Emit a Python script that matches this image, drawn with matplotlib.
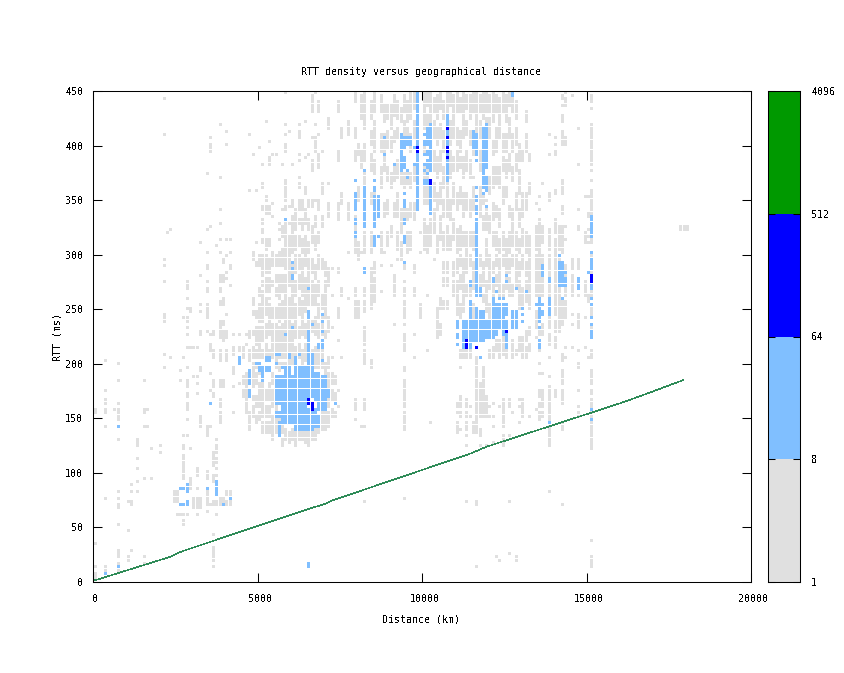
#!/usr/bin/env python3
import matplotlib
matplotlib.use('Agg')
import matplotlib.pyplot as plt
from matplotlib.path import Path
from matplotlib.transforms import ScaledTranslation

plt.rcParams['font.family'] = ['DejaVu Sans Mono']
plt.rcParams['font.size'] = 7.2
plt.rcParams['text.antialiased'] = False

# counts are binned 100 km x 3 ms; key = lower edge of distance bin,
# values = RTT (ms) seen in that column, single or (lo, hi) runs
LOW = {
    0: [35, 14, (0, 8), (155, 158)],
    300: [203, 176, (163, 167), 158, 155, 143, 77, 14, 10],
    600: [158],
    700: [200, 185, 164, 158, (148, 153), 129, 82, 77, (67, 71), 52, (22, 29), 17, 10],
    1000: [74, 46, 23, 20],
    1100: [89, 82, 74, 70, 28],
    1300: [(125, 129), 113, 104, 91, 82],
    1500: [185, 158, 155, 143, 95, 22, 15],
    1600: [158, 143],
    1700: [122, 95],
    2000: [125, 119],
    2100: [441, 410, 296, 289, 275, (240, 245), 238, 209, 196],
    2200: [319],
    2300: [323, 206],
    2400: [(73, 83)],
    2500: [(73, 83), 61],
    2600: [184, 192, 61],
    2700: [242, 206, 133, (121, 125), (106, 116), (98, 104), (94, 96), 61, (52, 55)],
    2800: [(268, 275), 259, 250, (237, 240), 232, 226, 215, 195, (179, 185), (170, 173),
           (157, 164), 149, 133, 61],
    2900: [(247, 250), 215, 122, (85, 95)],
    3000: [215, 188, (67, 77)],
    3100: [215, 188, 182, 173, (97, 104), 86, (67, 77), 61],
    3200: [310, 280, 254, 248, (225, 229), (193, 196), (146, 150), 143, (67, 77)],
    3400: [374, 323, 301, (286, 290), 275, (265, 269), (242, 254), 229, (133, 143),
           (94, 101), (72, 83), 70, 65],
    3500: [406, (393, 400), 326, 225, (211, 216), 191, 174, 143, 70],
    3600: [(225, 229), (204, 210), (179, 185), (170, 173), (105, 119), (94, 98), 90, 74, 70,
           44, (22, 32), 19, 13],
    3700: [308, 129, (122, 125), 118, (108, 113), 104, 96, 74, 70, 60],
    3800: [419, 371, 341, 329, 313, 301, (274, 280), (265, 269), (252, 257), (232, 237),
           (222, 229), (202, 212), (179, 185), (161, 165), 155, (146, 150), (70, 75)],
    3900: [296, 293, (274, 280), (252, 260), (234, 237), (220, 229), (179, 185), 75, 72],
    4000: [413, 401, 313, 298, 284, 278, 245, (223, 229), (202, 210), (80, 83), (70, 72)],
    4100: [313, 301, (286, 290), 272, (78, 83), (70, 72)],
    4200: [(208, 214), (190, 196), 177, 155, 226],
    4400: [226, (210, 215), 181],
    4500: [(205, 215), (180, 188), (170, 175)],
    4600: [225, 218, (185, 190), (168, 180), (155, 165)],
    4700: [410, 359, (223, 229), 212, (203, 208), (140, 155)],
    4800: [392, 301, (295, 299), (254, 259), (244, 248), (225, 228), (205, 215), (196, 200),
           (177, 195), (165, 170), (150, 160)],
    4900: [359, 310, (289, 291), (240, 248), (216, 232), (204, 212), (195, 198), (180, 190),
           (160, 170), (145, 150)],
    5000: [398, (290, 298), (262, 268), (238, 252), (218, 232), (205, 214), (190, 197),
           (160, 180), (148, 155)],
    5100: [383, (361, 365), (340, 344), (327, 332), (319, 323), (310, 313), (280, 298),
           (270, 275), (255, 265), (238, 252), (219, 232), (206, 210), (175, 185), (150, 172),
           (135, 146)],
    5200: [422, (350, 353), (338, 344), (304, 312), (284, 298), (264, 278), (244, 258),
           (224, 236), (215, 218), (205, 212), (165, 175), (150, 160), (135, 145)],
    5300: [404, (382, 387), (338, 344), (308, 312), (284, 296), (265, 278), (258, 260),
           (238, 252), (225, 236), (205, 212), (165, 180), (150, 160), (135, 146)],
    5400: [390, 347, 335, 301, (290, 298), (270, 275), (240, 250), (226, 236), (214, 224),
           (205, 210), (180, 190), (172, 176), (160, 170), (144, 152), (130, 142)],
    5500: [392, (290, 298), (275, 280), (262, 268), (240, 250), (225, 236), (208, 222),
           (196, 204), (150, 180), (135, 148)],
    5600: [329, 323, 313, 301, (290, 298), (275, 280), (258, 270), (238, 252), (226, 232),
           (205, 222), (192, 200), (135, 150)],
    5700: [381, 341, (316, 324), (290, 304), (264, 280), (240, 256), (226, 236), (215, 222),
           (205, 212), (195, 200), (135, 150), (125, 130)],
    5800: [449, 419, 410, (394, 399), (350, 368), (340, 344), (300, 329), (285, 298),
           (260, 280), (240, 255), (225, 238), (205, 222), (195, 200), (130, 138)],
    5900: [413, 344, 329, (300, 316), (270, 298), (245, 260), (225, 240), (210, 222),
           (200, 205), (128, 135)],
    6000: [382, (344, 350), (320, 335), (300, 316), (284, 292), (262, 275), (240, 260),
           (222, 236), (198, 222), (130, 140)],
    6100: [(322, 340), (303, 316), (284, 298), (262, 275), (240, 252), (222, 238),
           (198, 215), (125, 140)],
    6200: [419, (405, 413), 392, 385, 371, (360, 365), (340, 350), (327, 332), (306, 316),
           (287, 298), (268, 280), (244, 258), (222, 232), (204, 218), (130, 140)],
    6300: [(340, 350), (322, 332), (300, 312), (284, 294), (262, 280), (240, 255),
           (225, 238), (198, 212), (130, 138)],
    6400: [422, 389, (355, 360), (327, 340), (300, 316), (290, 298), (262, 276), (246, 258),
           (222, 234), (201, 218), (128, 138)],
    6500: [392, (344, 350), (322, 332), (300, 310), (278, 294), (263, 274), (254, 260),
           (229, 238), (198, 218), (125, 138)],
    6600: [(430, 445), 405, (375, 385), (344, 350), (310, 325), (284, 294), (263, 274),
           (254, 260), (229, 238), (198, 212), (130, 138)],
    6700: [449, 419, (395, 405), 350, (325, 335), (303, 316), (278, 290), (254, 270),
           (225, 240), (195, 215), (130, 140)],
    6800: [(430, 440), 410, (380, 390), (340, 350), (310, 320), (285, 298), (262, 275),
           (240, 252), (222, 236), (195, 212), (135, 142)],
    6900: [395, (355, 365), (325, 335), (285, 295), (250, 262), (225, 240), (195, 212),
           (140, 155)],
    7000: [(280, 292), (262, 275), (254, 258), (240, 250), (224, 230), (190, 198), (140, 158)],
    7100: [(415, 425), 365, (335, 345), (270, 285), (228, 240), (195, 205), (176, 190),
           (160, 170), (142, 155)],
    7200: [287, 262, 232, 205, (180, 190), (165, 175), (150, 158)],
    7300: [(180, 188), (165, 172), (150, 155)],
    7400: [(430, 440), (384, 395), (330, 345), (283, 287), (242, 250), 219, 175, 160],
    7500: [(405, 415), (345, 355), (262, 268), 205],
    7700: [(410, 420), (330, 345), 300, 260],
    7900: [(440, 449), (405, 415), (385, 395), (320, 335), (300, 315), (262, 268),
           (242, 255), (158, 167), 149],
    8000: [(390, 400), (350, 360), (295, 310), (242, 255)],
    8100: [(425, 445), (380, 395), 300, 143],
    8200: [(415, 449), (385, 400), (360, 375), (300, 320), (262, 269), (246, 255), (229, 232),
           (216, 226), (200, 211), (158, 167), 141, 74],
    8400: [(425, 440), (400, 412), (375, 390), (345, 355), (300, 320), (281, 287), (262, 276),
           (250, 258), (197, 202)],
    8500: [(430, 447), (395, 420), (372, 385), (345, 355), (284, 293), (262, 276), (255, 262)],
    8700: [(430, 445), (395, 410), (360, 378), (300, 320), 290, 265],
    8800: [(420, 435), (392, 410), (375, 388), (335, 345), 300],
    8900: [(425, 435), (398, 412), (366, 378), (338, 350), (308, 320)],
    9000: [(415, 435), (395, 405), (360, 372), (315, 325), 290],
    9100: [(428, 445), (402, 412), (366, 378), (335, 345), (274, 281), (262, 270), 235],
    9200: [(425, 440), (405, 415), (370, 385), (335, 355), (305, 320), 295],
    9300: [(420, 434), (395, 410), (365, 378), (320, 340), (295, 310)],
    9400: [(431, 445), (410, 420), (360, 372), (333, 345), (285, 292), 275, (262, 269),
           (240, 257), 234, (211, 226), (193, 197), (179, 185), (170, 176), (160, 165),
           (140, 153), 77],
    9500: [(420, 438), (405, 415), (363, 375), (330, 340), (300, 320)],
    9600: [(425, 447), (395, 409), (360, 372), (333, 345), (305, 320)],
    9700: [(434, 449), (405, 420), (366, 378), (330, 345), (283, 288), (262, 269), 225, 206],
    9900: [(242, 254), 300, 318],
    10000: [(430, 449), (415, 428), (392, 400), (370, 380), (345, 360), (305, 330)],
    10100: [(436, 447), (415, 428), (370, 378), (345, 360), (300, 324), 262, 212],
    10200: [(430, 449), (420, 428), (306, 330), 145],
    10300: [(430, 441), (405, 420), (375, 395), (350, 365), (320, 340), 295],
    10400: [(425, 445), (400, 415), (370, 389), (340, 354), (300, 315), (242, 250),
            (223, 237)],
    10500: [(433, 449), (405, 418), (375, 395), (345, 365), (312, 335), (250, 260), (230, 236),
            (225, 226)],
    10600: [(425, 439), (395, 412), (360, 378), (335, 350), (305, 320), (284, 293), (272, 278),
            (250, 257)],
    10700: [(430, 447), (335, 365), (305, 325), (284, 293), (272, 278), (250, 257)],
    10800: [(436, 449), (400, 420), (371, 395), (330, 350), (305, 316)],
    10900: [(425, 445), (405, 420), (375, 389), (345, 365), (312, 330), (262, 275), (280, 292)],
    11000: [(430, 449), (400, 414), (375, 395), (340, 354), (300, 322), (284, 296), (262, 274),
            (244, 258), 164, 159, 153, (142, 145), (135, 138)],
    11100: [(430, 441), (395, 412), (378, 388), (345, 362), (305, 325), (290, 299), (268, 280),
            (240, 252), (205, 212), 195, (160, 170), (150, 155), 140],
    11200: [(425, 449), (405, 420), (370, 389), (335, 354), (306, 320), (284, 296), (262, 280),
            (246, 258), (205, 212)],
    11300: [(434, 445), (410, 420), (375, 395), (340, 355), (300, 319), (284, 299), (262, 270),
            (205, 212), (160, 167), (150, 155), (142, 145), 138, 133, 124, 74],
    11400: [(425, 445), (400, 412), (370, 385), (335, 349), (306, 320), (288, 299), (262, 270),
            (205, 212), 160, 150],
    11500: [(430, 449), 413, (395, 403), 390, 371, (340, 360), (305, 320), (284, 293), (268, 281),
            (240, 252), (136, 145)],
    11600: [(425, 449), (410, 420), (135, 205), 74, 70, 14],
    11700: [(430, 445), (405, 420), (375, 395), (335, 360), (290, 299), (272, 281), (150, 180),
            (134, 140), 125],
    11800: [(425, 449), 356, (345, 352), (322, 335), (284, 293), (272, 281), (255, 262),
            (150, 195)],
    11900: [(430, 449), (410, 425), 350, (322, 340), (300, 312), (290, 299), (262, 275),
            (246, 258), (150, 170), 124],
    12000: [(431, 445), (405, 425), (355, 369), (320, 334), (284, 299), (268, 281), (240, 252),
            (205, 212), 150, 160],
    12100: [(420, 449), (390, 404), (360, 378), (330, 345), (306, 318), (284, 293), (262, 270),
            (205, 215), 164, 152, 143, 127],
    12200: [(430, 445), (395, 415), (365, 380), (335, 344), (305, 320), (290, 299), (272, 281),
            (210, 220), 22],
    12300: [(425, 443), (405, 420), (360, 378), (325, 340), (300, 312), (284, 296), (262, 280),
            (205, 220), 160, 19],
    12400: [(430, 449), (395, 409), (375, 388), (345, 360), (305, 320), (290, 299), (262, 272),
            (208, 222), (158, 167), (148, 155), (142, 145), (125, 132)],
    12500: [(420, 445), (395, 410), (370, 385), (351, 362), (300, 312), (284, 298), (268, 280),
            (205, 212)],
    12600: [(436, 449), (405, 425), (375, 392), (335, 344), (300, 320), (284, 296), (262, 278),
            (160, 165), 133, 25, 74],
    12700: [(430, 447), (395, 410), (366, 378), (320, 340), (306, 318), (290, 298), (262, 272),
            (205, 220), 155],
    12800: [(425, 440), (400, 415), (375, 390), (340, 354), (305, 320), (284, 298), (268, 280),
            (208, 212), 19, 22],
    12900: [(385, 400), (355, 375), (325, 340), (300, 314), (280, 292), (250, 275), (210, 222),
            165, 160, 145],
    13000: [(385, 395), (335, 355), (306, 322), (286, 298), (250, 269), (205, 222), (150, 165)],
    13100: [(420, 430), (395, 410), (340, 355), (300, 320), (280, 292), (256, 275), (220, 230),
            (205, 215)],
    13200: [(385, 392), (355, 365), (300, 315), (284, 298), (262, 280), (250, 258), (225, 232),
            (210, 218), 150],
    13400: [347, (305, 325), (284, 298), (262, 280), 254, 248, 245, (232, 240), 222, 158],
    13500: [352, 341, (302, 330), (284, 298), (262, 280), (225, 230), 212, 200, 191, (170, 176),
            (160, 164), (148, 155)],
    13600: [364, (310, 325), (284, 298), (262, 280), (226, 236), (160, 176), (150, 155), 190],
    13800: [410, 390, (348, 355), (303, 322), (284, 298), (262, 280), (232, 240), (217, 226), 206,
            187, 179, (170, 176), (158, 167), (148, 155), (127, 141), 125, 82],
    14000: [407, 399, (391, 394), 359, 355, (320, 330), (302, 312), (284, 298), (262, 280),
            (245, 258), (230, 238), (215, 222), (170, 176)],
    14100: [(320, 325), (303, 315), (284, 298), (262, 280), (245, 258), (230, 240)],
    14200: [(442, 446), 437, (422, 428), (410, 413), (400, 405), 368, (358, 365), 356, (338, 344),
            (316, 325), (302, 315), (245, 258), (235, 240), (202, 208), (180, 194), (170, 176),
            (162, 167), 145, (139, 144), 70],
    14300: [449, (440, 443), 437, (400, 405), 325, 312, (262, 290), (245, 255), 240, 215, 205],
    14500: [446, (285, 295), (262, 280), 243, 235, 213],
    14700: [416, 383, 340, (322, 325), (285, 295), 262, (232, 245), 210, (195, 200), 175, 160,
            (150, 155)],
    14900: [352, (310, 318), (262, 275), 240, 215],
    15000: [353, 337, 335, 323, 316, 310, (255, 262), 205],
    15100: [(440, 446), 434, 419, (413, 416), (397, 408), (388, 396), (383, 387), 377, 368, 359,
            (345, 356), (336, 344), 319, (309, 313), (298, 300), (275, 283), (262, 266),
            (245, 252), 232, (205, 210), (180, 194), (172, 176), (161, 167), (152, 155), 145,
            (139, 144), (128, 138), (121, 125), 38, (12, 23)],
    17800: [(322, 325)],
    17900: [(322, 325)],
    18000: [(322, 325)],
}

MID = {
    300: [7],
    700: [143, 13],
    2600: [86, 71],
    2700: [86, 71],
    2800: [(86, 89), 83, 74, 71],
    3400: [86],
    3500: [164],
    3700: [(85, 90), (78, 83)],
    3900: [70],
    4100: [76],
    4400: [(199, 204)],
    4700: [(180, 194), (170, 176)],
    4900: [200],
    5000: [(193, 197), 200],
    5100: [(184, 197)],
    5200: [(193, 197), (202, 206)],
    5300: [(193, 197), (202, 206)],
    5500: [(164, 188), (150, 155), 209, 200],
    5600: [(164, 188), (150, 155), (136, 144), 133, 209],
    5700: [196, (145, 188)],
    5800: [332, 226, (190, 197), (145, 188)],
    5900: [(205, 209), (190, 197), (145, 188)],
    6000: [292, 287, (276, 281), 232, (145, 188)],
    6100: [(200, 205), (140, 195)],
    6200: [208, (140, 195)],
    6300: [(140, 195)],
    6400: [(140, 195)],
    6500: [268, (240, 248), (223, 228), 212, (210, 219), (200, 208), (168, 195), (140, 157), (12, 17)],
    6600: [(200, 208), (168, 195), (140, 157), 236],
    6700: [(165, 190), (142, 157)],
    6800: [(214, 218), 191, (158, 188), (142, 150)],
    6900: [244, 238, 229, (214, 219), 203, (158, 188)],
    7000: [(158, 188)],
    7100: [(170, 175)],
    7300: [164],
    7900: [368, (346, 356), (339, 344), (329, 332), (317, 320)],
    8200: [377, (351, 362), (336, 350), (327, 335), 324, (283, 287)],
    8500: [368, (358, 362), (347, 353), (336, 343), (324, 335), 316, 313, (306, 312)],
    8600: [(347, 353), (336, 343), 335, 316],
    8800: [407, 390],
    9100: [383],
    9300: [410, (397, 407), (388, 396), (379, 387), 377],
    9400: [(397, 407), (379, 387), 356, (345, 350), 342, (327, 332), 316, (309, 313), 292],
    9500: [(400, 405), 377, 371],
    9600: [(400, 405)],
    9700: [398, 383],
    9800: [(439, 449), (430, 437), (419, 428), (410, 417), (400, 408), (379, 392), (368, 376),
           (358, 367), (347, 356), (339, 344)],
    10000: [410, (400, 403), 391, 383, 377, 368, 365],
    10100: [(400, 414), 394, 390, (379, 384), 374, 368, 364],
    10200: [(400, 417), (388, 396), (379, 387), 376, (346, 362), (336, 344)],
    10700: [(419, 428), (408, 413), (400, 403), 392, (379, 387), (367, 378)],
    11000: [(231, 238), (223, 226), 218],
    11200: [(231, 238), (220, 229), (214, 219)],
    11300: [(231, 238), (220, 229), (214, 219)],
    11400: [(271, 275), (242, 257), (231, 238), (220, 229), (214, 217)],
    11500: [410, 413, (397, 405), (231, 238), (220, 229)],
    11600: [410, (397, 405), (390, 393), 385, 362, (349, 353), (336, 344), (324, 332), (300, 322),
            (283, 299), (263, 281), (242, 250), (231, 238), (220, 229)],
    11700: [206, (263, 269), (242, 248), (231, 238), (220, 229)],
    11800: [(410, 414), (400, 405), (379, 396), (367, 378), (361, 365), 356, (240, 246), (231, 238),
            (220, 229)],
    11900: [(405, 417), (379, 405), (359, 371), 344, (231, 238), (222, 229)],
    12000: [(231, 238), (222, 229)],
    12100: [(274, 278), (242, 260), (231, 238), (224, 229)],
    12200: [266, (242, 254), (231, 238), (226, 229)],
    12300: [260, 254, (242, 250), (231, 238)],
    12400: [260, 254, (242, 250), (231, 238), (226, 229)],
    12500: [281, 275, 254, (243, 250), (231, 238), (221, 226), (214, 219)],
    12700: [(445, 449), (240, 248), (231, 238)],
    12800: [269, (240, 248), (231, 238)],
    13000: [251, 244, 238],
    13100: [265],
    13400: [254],
    13500: [(251, 260), (242, 249), 237, 232, (214, 219)],
    13600: [(283, 290), 280, 254, 248, 245],
    13800: [(274, 277), (245, 260), 145],
    14100: [297, (283, 293), (272, 281)],
    14200: [(283, 293), (272, 281), 271, 260],
    14300: [284, (272, 277)],
    14700: [(274, 278), (268, 272)],
    15000: [284],
    15100: [334, (319, 332), 316, 301, 296, (285, 293), (268, 272), 259, 254, 242, 235, (226, 229),
            222, 158, 148],
}

HIGH = {
    6500: [(162, 167)],
    6600: [(157, 162)],
    9800: [398, 394],
    10200: [366, 363],
    10700: [416, 407, 398, 394, 389],
    11300: [(214, 219)],
    11600: [215],
    12500: [229],
    15100: [(274, 281)],
}

LEVEL_COLORS = ['#e0e0e0', '#80bfff', '#0000ff']
BIN_KM = 100
BIN_MS = 3

# lower envelope: great-circle distance at light speed in fibre
LINE_KM = [0, 2340, 2600, 6600, 7000, 7300, 11500, 11966, 16020, 16600, 17936]
LINE_MS = [1, 23, 27, 67.5, 71, 75, 118, 124, 163.8, 170, 185]

CBAR_LEVELS = [1, 8, 64, 512, 4096]
CBAR_COLORS = ['#e0e0e0', '#80bfff', '#0000ff', '#009900']


def cells(table):
    xs, ys = [], []
    for km, runs in table.items():
        seen = set()
        for r in runs:
            lo, hi = r if isinstance(r, tuple) else (r, r)
            for j in range(int(lo // BIN_MS), int(hi // BIN_MS) + 1):
                seen.add(j)
        for j in sorted(seen):
            xs.append(km + BIN_KM / 2)
            ys.append(j * BIN_MS + BIN_MS / 2)
    return xs, ys


W, H = 845, 673
fig = plt.figure(figsize=(W / 100, H / 100), dpi=100)
ax = fig.add_axes([93 / W, 1 - 582 / H, 658 / W, 491 / H])

# 3 px dots that snap to whole pixels, off-centre so the rounding stays at 3 wide
DOT = Path([(-1.4, -1.4), (1.6, -1.4), (1.6, 1.6), (-1.4, 1.6), (-1.4, -1.4)], closed=True)

for table, color in zip([LOW, MID, HIGH], LEVEL_COLORS):
    xs, ys = cells(table)
    pts = ax.scatter(xs, ys, marker=DOT, s=5.31, c=color, linewidths=0, antialiased=False, zorder=2)
    pts.set_snap(True)

ax.plot(LINE_KM, LINE_MS, color='#2e8b57', lw=0.4, antialiased=False, zorder=3)

ax.set_xlim(0, 20000)
ax.set_ylim(0, 450)
ax.set_xticks(range(0, 20001, 5000))
ax.set_yticks(range(0, 451, 50))
ax.tick_params(direction='in', length=6.5, width=0.75, top=True, right=True, pad=7)
ax.tick_params(axis='x', pad=9)
for s in ax.spines.values():
    s.set_linewidth(0.75)
    s.set_zorder(5)
for lab in ax.get_xticklabels():
    lab.set_transform(lab.get_transform() + ScaledTranslation(2.5 / 100, 0, fig.dpi_scale_trans))

fig.text(421 / W, 1 - 72 / H, 'RTT density versus geographical distance', ha='center', va='center')
fig.text(421 / W, 1 - 619 / H, 'Distance (km)', ha='center', va='center')
fig.text(58 / W, 1 - 337 / H, 'RTT (ms)', ha='center', va='center', rotation=90)

# colour key, log2 scale
cax = fig.add_axes([768 / W, 1 - 582 / H, 32 / W, 491 / H])
cax.set_yscale('log', base=2)
for lo, hi, color in zip(CBAR_LEVELS[:-1], CBAR_LEVELS[1:], CBAR_COLORS):
    cax.bar(0.5, hi - lo, bottom=lo, width=1, color=color, linewidth=0, antialiased=False)
cax.set_xlim(0, 1)
cax.set_ylim(CBAR_LEVELS[0], CBAR_LEVELS[-1])
cax.set_xticks([])
cax.set_yticks(CBAR_LEVELS)
cax.set_yticklabels([str(v) for v in CBAR_LEVELS])
cax.minorticks_off()
cax.tick_params(axis='y', direction='in', length=5, width=0.75, left=True, right=True,
                labelleft=False, labelright=True, pad=8)
for s in cax.spines.values():
    s.set_linewidth(0.75)

fig.savefig('out.png', dpi=100)
